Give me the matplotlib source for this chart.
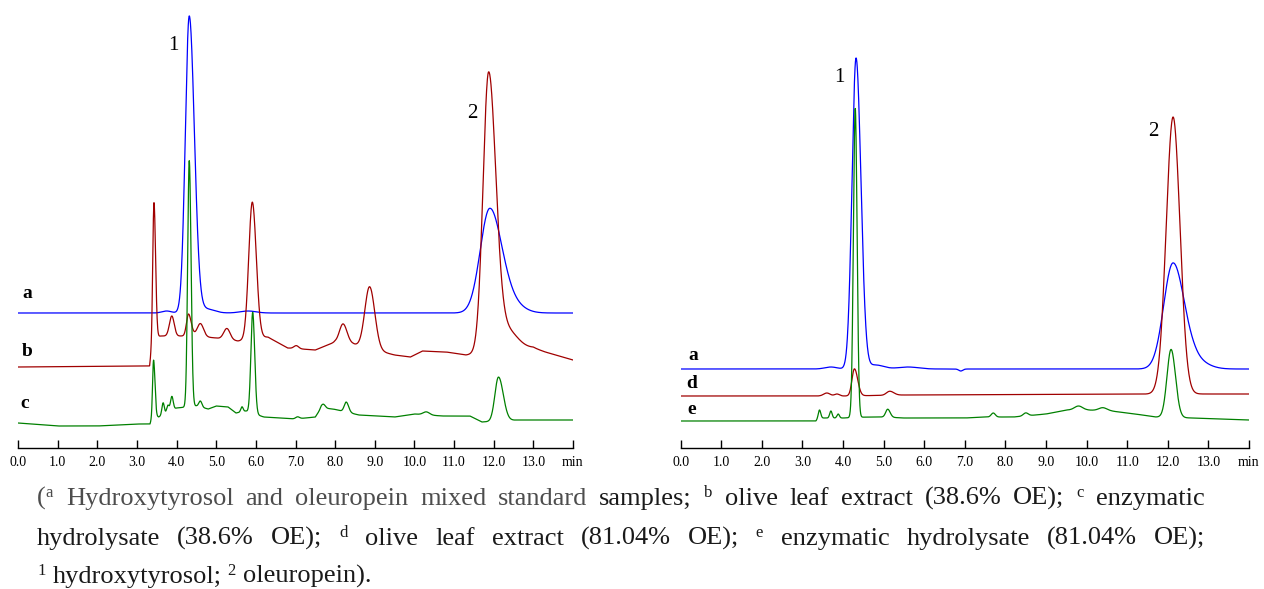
import matplotlib
matplotlib.use('Agg')
import matplotlib.pyplot as plt
import numpy as np

# ---- chromatogram data (time in min, signal in arbitrary units) ----
# each trace = baseline anchor points + peak table (rt, height, sigma_left, sigma_right)

# left panel: a = standards, b = olive leaf extract 38.6%, c = hydrolysate 38.6%
La_base_t = [0.0, 14.0]
La_base_y = [135, 135]
La_peaks = [(3.75, 2, .12, .12), (4.32, 297, .10, .13), (4.75, 4, .15, .2),
            (5.8, 2, .2, .2), (11.90, 104, .24, .30), (12.45, 8, .25, .3)]

Lb_base_t = [0.0, 3.32, 3.40, 3.6, 4.0, 4.45, 5.0, 5.55, 5.75, 6.3, 6.8, 7.5, 8.0, 8.45,
             8.6, 9.5, 9.9, 10.2, 10.8, 11.3, 12.4, 13.0, 13.3, 14.0]
Lb_base_y = [81, 82, 110, 112, 112, 112, 110, 107, 108, 111, 100, 98, 106, 104,
             102, 93, 91, 97, 96, 93, 97, 100, 96, 88]
Lb_peaks = [(3.43, 135, .03, .04), (3.88, 20, .06, .06), (4.30, 22, .05, .07),
            (4.60, 13, .08, .08), (5.27, 11, .08, .08), (5.91, 137, .09, .10),
            (7.02, 3, .06, .06), (8.20, 19, .09, .10), (8.87, 62, .12, .13),
            (11.87, 276, .14, .18), (12.30, 22, .25, .28)]

Lc_base_t = [0.0, 1.0, 2.0, 3.0, 3.33, 3.40, 3.55, 4.0, 4.5, 4.8, 5.0, 5.3, 5.5, 5.75, 6.2,
             7.0, 7.5, 7.65, 7.95, 8.6, 9.5, 10.0, 10.7, 11.4, 11.7, 12.6, 14.0]
Lc_base_y = [25, 22, 22, 24, 24, 32, 31, 40, 42, 39, 42, 41, 35, 37, 31,
             29, 31, 40, 39, 33, 31, 34, 32, 32, 26, 28, 28]
Lc_peaks = [(3.42, 56, .025, .035), (3.66, 12, .03, .03), (3.78, 7, .03, .03),
            (3.88, 14, .035, .035), (4.32, 246, .04, .045), (4.60, 6, .04, .04),
            (5.65, 5, .03, .03), (5.92, 101, .045, .05), (7.05, 2, .05, .05),
            (7.70, 4, .05, .05), (8.28, 10, .05, .06), (10.3, 3, .08, .08),
            (12.12, 44, .09, .12)]

# right panel: a = standards, d = olive leaf extract 81.04%, e = hydrolysate 81.04%
Ra_base_t = [0.0, 14.0]
Ra_base_y = [79, 79]
Ra_peaks = [(3.7, 2, .15, .15), (4.32, 311, .10, .12), (4.8, 4, .15, .2),
            (5.6, 2, .25, .25), (6.9, -2, .05, .05), (12.13, 106, .23, .28),
            (12.7, 7, .2, .3)]

Rd_base_t = [0.0, 4.0, 5.5, 12.0, 14.0]
Rd_base_y = [52, 52, 53, 54, 54]
Rd_peaks = [(3.6, 3, .08, .08), (3.85, 2, .06, .06), (4.28, 27, .06, .08),
            (5.15, 4, .08, .1), (12.13, 277, .17, .17)]

Re_base_t = [0.0, 3.33, 3.40, 4.0, 4.6, 5.0, 5.5, 7.0, 7.5, 8.2, 9.0, 9.5, 10.0, 10.6,
             11.2, 11.7, 12.6, 14.0]
Re_base_y = [27, 27, 30, 30, 31, 31, 30, 30, 31, 31, 34, 38, 38, 37,
             34, 31, 30, 28]
Re_peaks = [(3.42, 8, .03, .03), (3.70, 7, .03, .03), (3.88, 4, .03, .03),
            (4.30, 309, .045, .045), (5.10, 8, .05, .06), (7.70, 4, .05, .05),
            (8.50, 3, .06, .06), (9.8, 4, .1, .1), (10.4, 3, .1, .1),
            (12.08, 68, .10, .11)]

tick_vals = list(range(0, 14))
tick_labels = ['%.1f' % v for v in tick_vals]

BLUE = '#0000ff'
RED = '#a00000'
GREEN = '#008000'
SERIF = 'Liberation Serif'

t = np.linspace(0, 14, 2801)


def trace(base_t, base_y, peaks):
    y = np.interp(t, base_t, base_y).astype(float)
    for rt, h, sl, sr in peaks:
        s = np.where(t < rt, sl, sr)
        y = y + h * np.exp(-0.5 * ((t - rt) / s) ** 2)
    return y


W, H = 1264, 589
fig = plt.figure(figsize=(W / 100, H / 100), dpi=100)

ax1 = fig.add_axes([18 / W, 1 - 448 / H, (573 - 18) / W, 448 / H])
ax2 = fig.add_axes([680.7 / W, 1 - 448 / H, (1249 - 680.7) / W, 448 / H])

panels = [
    (ax1, [(La_base_t, La_base_y, La_peaks, BLUE), (Lb_base_t, Lb_base_y, Lb_peaks, RED),
           (Lc_base_t, Lc_base_y, Lc_peaks, GREEN)],
     [('a', 0.23, 155), ('b', 0.23, 96), ('c', 0.18, 44)], [(3.91, 402), (11.46, 335)]),
    (ax2, [(Ra_base_t, Ra_base_y, Ra_peaks, BLUE), (Rd_base_t, Rd_base_y, Rd_peaks, RED),
           (Re_base_t, Re_base_y, Re_peaks, GREEN)],
     [('a', 0.30, 93), ('d', 0.28, 65), ('e', 0.28, 39)], [(3.92, 371), (11.64, 317)]),
]

for ax, traces, letters, nums in panels:
    for bt, by, pk, col in traces:
        ax.plot(t, trace(bt, by, pk), color=col, lw=0.9)
    for s, x, y in letters:
        ax.text(x, y, s, fontsize=14, family=SERIF, fontweight='bold', ha='center', va='center')
    for i, (x, y) in enumerate(nums):
        ax.text(x, y, str(i + 1), fontsize=15, family=SERIF, ha='center', va='center')
    ax.set_xlim(0, 14)
    ax.set_ylim(0, 448)
    for sp in ['left', 'right', 'top']:
        ax.spines[sp].set_visible(False)
    ax.spines['bottom'].set_linewidth(1.0)
    ax.set_yticks([])
    ax.set_xticks(tick_vals + [14])
    ax.set_xticklabels(tick_labels + [''], fontsize=10, family=SERIF)
    ax.tick_params(axis='x', direction='in', length=5.5, width=1.0, pad=6)
    ax.text(14.0, -0.033, 'min', transform=ax.get_xaxis_transform(), fontsize=10,
            family=SERIF, ha='center', va='center')
    ax.patch.set_alpha(0)

# ---- caption, justified word by word ----
GRAY = '#4d4d4d'
DARK = '#1a1a1a'
line1 = [[('(', 0, GRAY), ('a', 1, GRAY)], [('Hydroxytyrosol', 0, GRAY)], [('and', 0, GRAY)],
         [('oleuropein', 0, GRAY)], [('mixed', 0, GRAY)], [('standard', 0, GRAY)],
         [('samples;', 0, DARK)], [('b', 1, DARK)], [('olive', 0, DARK)], [('leaf', 0, DARK)],
         [('extract', 0, DARK)], [('(38.6%', 0, DARK)], [('OE);', 0, DARK)], [('c', 1, DARK)],
         [('enzymatic', 0, DARK)]]
line2 = [[(w, 0, DARK)] for w in ['hydrolysate', '(38.6%', 'OE);']] + [[('d', 1, DARK)]] + \
        [[(w, 0, DARK)] for w in ['olive', 'leaf', 'extract', '(81.04%', 'OE);']] + [[('e', 1, DARK)]] + \
        [[(w, 0, DARK)] for w in ['enzymatic', 'hydrolysate', '(81.04%', 'OE);']]
line3 = [[('1', 1, DARK)], [('hydroxytyrosol;', 0, DARK)], [('2', 1, DARK)], [('oleuropein).', 0, DARK)]]

renderer = fig.canvas.get_renderer()


def caption_line(words, ybase, x0, x1=None, gap=6.0):
    placed = []
    total = 0
    for word in words:
        segs = []
        ww = 0
        for txt, sup, col in word:
            tx = fig.text(0, 0, txt, fontsize=12 if sup else 19, family=SERIF,
                          color=col, va='baseline', ha='left')
            w = tx.get_window_extent(renderer).width
            segs.append((tx, ww, sup))
            ww += w + (1 if sup else 0)
        placed.append((segs, ww))
        total += ww
    if x1 is not None:
        gap = (x1 - x0 - total) / (len(words) - 1)
    x = x0
    for segs, ww in placed:
        for tx, off, sup in segs:
            tx.set_position(((x + off) / W, 1 - (ybase - (8 if sup else 0)) / H))
        x += ww + gap


caption_line(line1, 505, 37, 1205)
caption_line(line2, 545, 37, 1205)
caption_line(line3, 583, 37)

plt.savefig('out.png', dpi=100)
